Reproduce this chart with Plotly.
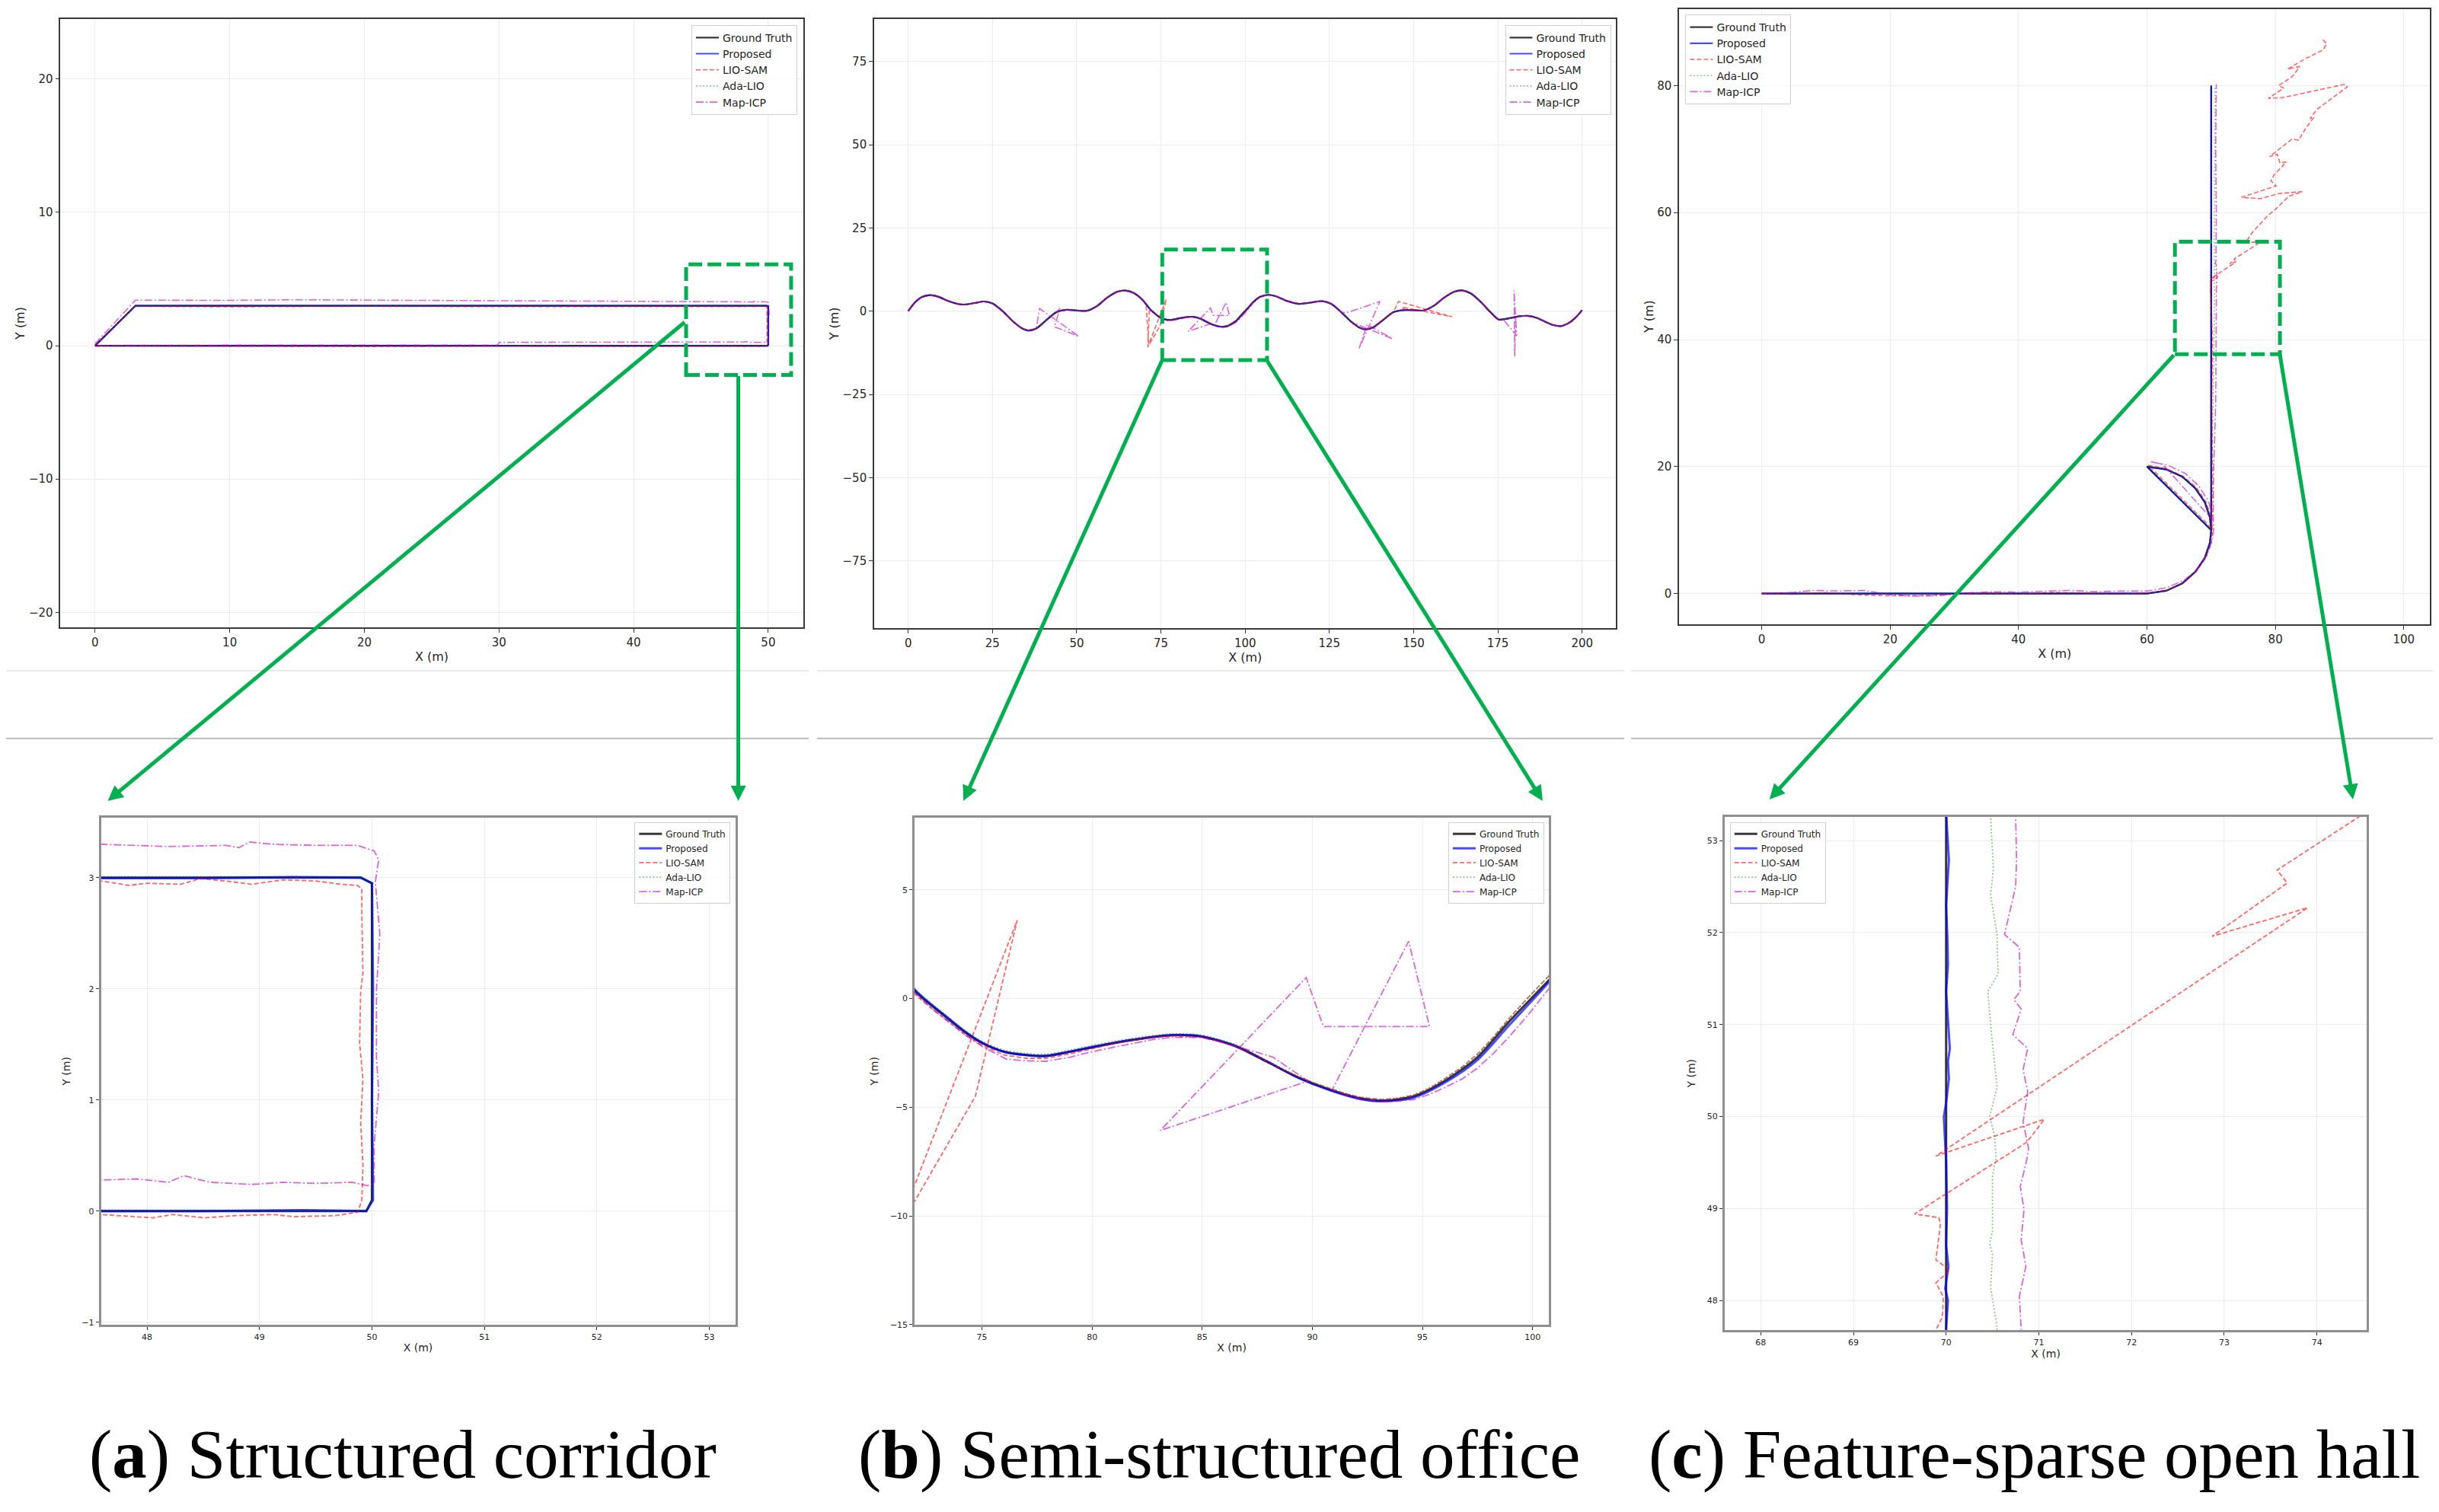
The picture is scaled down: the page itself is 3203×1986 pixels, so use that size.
import plotly.graph_objects as go

W, H = 3203, 1986          # size of the reference picture
OFF = 8                    # default page margin of the html body
FW, FH = W - 2 * OFF, H - 2 * OFF

SERIES = ["Ground Truth", "Proposed", "LIO-SAM", "Ada-LIO", "Map-ICP"]

# ---------------- (a) Structured corridor ----------------
GT_A = [(0, 0), (3, 3), (49.9, 3.0), (50.0, 2.95), (50.0, 0.1), (49.95, 0.0), (0, 0)]
PROP_A = [(0, 0), (3, 3), (20, 3.0), (35, 3.0), (47.6, 3.0), (48.5, 2.995), (49.3, 3.005), (49.9, 3.0),
          (50.0, 2.95), (50.01, 2.0), (50.0, 1.0), (50.01, 0.1), (49.95, 0.0), (49.4, 0.01), (48.5, 0.0),
          (47.6, 0.0), (30, 0.0), (10, 0.0), (0, 0)]
LIO_A = [(0, 0), (3.0, 2.95), (10, 2.92), (20, 2.96), (30, 2.93), (40, 2.95), (47.59, 2.97), (47.84, 2.93),
         (48.0, 2.95), (48.3, 2.94), (48.47, 2.99), (48.7, 2.97), (48.93, 2.94), (49.21, 2.98), (49.5, 2.97),
         (49.73, 2.94), (49.87, 2.93), (49.91, 2.9), (49.91, 2.69), (49.92, 2.14), (49.9, 1.98), (49.89, 1.51),
         (49.92, 1.19), (49.9, 0.8), (49.92, 0.41), (49.91, 0.09), (49.87, -0.01), (49.68, -0.04), (49.31, -0.05),
         (49.12, -0.03), (48.79, -0.04), (48.51, -0.06), (48.23, -0.03), (48.05, -0.06), (47.59, -0.03),
         (40, -0.05), (30, -0.02), (20, -0.06), (10, -0.03), (0, 0)]
ADA_A = [(0, 0), (3, 3.01), (47.6, 3.01), (49.9, 3.01), (50.01, 2.95), (50.01, 0.1), (49.95, 0.01),
         (47.6, 0.01), (0, 0)]
MAP_A = [(0, 0.15), (3.0, 3.42), (10, 3.4), (15, 3.45), (20, 3.42), (30, 3.38), (40, 3.35), (47.59, 3.30),
         (48.19, 3.28), (48.7, 3.29), (48.82, 3.27), (48.91, 3.32), (49.12, 3.3), (49.5, 3.29), (49.87, 3.29),
         (50.02, 3.24), (50.06, 3.16), (50.03, 2.96), (50.07, 2.49), (50.04, 1.98), (50.04, 1.39), (50.06, 1.07),
         (50.02, 0.6), (50.02, 0.25), (49.96, 0.23), (49.82, 0.26), (49.5, 0.25), (49.21, 0.26), (48.93, 0.24),
         (48.56, 0.26), (48.33, 0.32), (48.19, 0.26), (47.91, 0.29), (47.59, 0.28), (40, 0.27), (30, 0.25),
         (29.9, 0.05), (20, 0.06), (10, 0.04), (0, 0.02)]

# ---------------- (b) Semi-structured office ----------------
GT_B = [(0, 0), (2, 2.6), (4, 4.2), (6.5, 4.8), (9, 4.3), (12, 3.0), (15, 2.1), (17, 2.0), (20, 2.5), (22.5, 2.9),
        (25, 2.3), (28, 0.0), (31, -3.0), (33.5, -5.0), (35.5, -5.8), (38, -5.2), (41, -2.7), (44, -0.3),
        (47, 0.4), (50, 0.2), (53, 0.1), (56, 1.5), (59, 4.0), (62, 5.8), (64.5, 6.2), (67, 5.4), (69.5, 3.4),
        (72, 0.3), (73.4, -0.88), (74.2, -1.53), (75, -2.05), (76, -2.45), (77, -2.6), (77.9, -2.65),
        (79, -2.45), (79.8, -2.29), (81.7, -1.93), (83.6, -1.69), (84.95, -1.75), (86.5, -2.19), (87.9, -2.89),
        (89.36, -3.64), (90.8, -4.2), (92.2, -4.6), (93.2, -4.7), (94.6, -4.5), (96, -3.8), (97.5, -2.7),
        (98.9, -1.1), (100.7, 0.8), (102.5, 2.8), (104.5, 4.3), (106.8, 4.9), (109, 4.5), (112, 3.2),
        (115.8, 2.2), (119, 2.5), (122.9, 3.0), (125.5, 2.2), (128.5, -0.3), (131.5, -3.2), (134, -5.0),
        (135.8, -5.5), (138, -4.9), (141, -2.6), (144, -0.3), (147, 0.3), (150, 0.3), (153, 0.2), (156, 1.6),
        (159, 4.0), (162, 5.8), (164.6, 6.2), (167, 5.3), (170, 2.7), (172.5, 0.0), (175.2, -2.5), (178, -2.2),
        (181, -1.6), (183.8, -1.4), (186.5, -2.0), (189.5, -3.4), (191.5, -4.2), (193.6, -4.5), (196, -3.6),
        (198, -2.0), (200, 0.3)]
PROP_B = [(0, 0), (2, 2.6), (4, 4.2), (6.5, 4.8), (9, 4.3), (12, 3.0), (15, 2.1), (17, 2.0), (20, 2.5), (22.5, 2.9),
          (25, 2.3), (28, 0.0), (31, -3.0), (33.5, -5.0), (35.5, -5.8), (38, -5.2), (41, -2.7), (44, -0.3),
          (47, 0.4), (50, 0.2), (53, 0.1), (56, 1.5), (59, 4.0), (62, 5.8), (64.5, 6.2), (67, 5.4), (69.5, 3.4),
          (72, 0.35), (73.4, -0.85), (74.2, -1.5), (75, -2.03), (76, -2.45), (77, -2.6), (77.9, -2.63),
          (79, -2.44), (79.8, -2.27), (81.7, -1.92), (83.6, -1.68), (84.95, -1.74), (86.5, -2.18), (87.9, -2.88),
          (89.36, -3.65), (90.8, -4.22), (92.2, -4.63), (93.2, -4.73), (94.6, -4.56), (96, -3.88), (97.5, -2.82),
          (98.9, -1.27), (100.7, 0.7), (102.5, 2.8), (104.5, 4.3), (106.8, 4.9), (109, 4.5), (112, 3.2),
          (115.8, 2.2), (119, 2.5), (122.9, 3.0), (125.5, 2.2), (128.5, -0.3), (131.5, -3.2), (134, -5.0),
          (135.8, -5.5), (138, -4.9), (141, -2.6), (144, -0.3), (147, 0.3), (150, 0.3), (153, 0.2), (156, 1.6),
          (159, 4.0), (162, 5.8), (164.6, 6.2), (167, 5.3), (170, 2.7), (172.5, 0.0), (175.2, -2.5), (178, -2.2),
          (181, -1.6), (183.8, -1.4), (186.5, -2.0), (189.5, -3.4), (191.5, -4.2), (193.6, -4.5), (196, -3.6),
          (198, -2.0), (200, 0.3)]
LIO_B = [(0, 0), (2, 2.6), (4, 4.2), (6.5, 4.8), (9, 4.3), (12, 3.0), (15, 2.1), (17, 2.0), (20, 2.5), (22.5, 2.9),
         (25, 2.3), (28, 0.0), (31, -3.0), (33.5, -5.0), (35.5, -5.8), (38, -5.2), (41, -2.7), (44, -0.3),
         (47, 0.4), (50, 0.2), (53, 0.1), (56, 1.5), (59, 4.0), (62, 5.8), (64.5, 6.2), (67, 5.4), (69.5, 3.4),
         (70.6, 1.9), (71.4, -10.0), (76.6, 3.6), (74.7, -4.5), (71.1, -10.8), (71.6, 0.9), (72, 0.15),
         (72.7, -0.45), (73.4, -1.0), (74.2, -1.65), (75, -2.15), (76, -2.6), (77, -2.75), (77.9, -2.75),
         (79, -2.55), (79.8, -2.35), (80.8, -2.12), (81.7, -1.95), (82.7, -1.8), (83.6, -1.72), (84.95, -1.78),
         (85.7, -1.95), (86.5, -2.2), (87.2, -2.52), (87.9, -2.9), (88.6, -3.25), (89.36, -3.6), (90.1, -3.9),
         (90.8, -4.15), (91.5, -4.38), (92.2, -4.55), (93.2, -4.65), (93.9, -4.6), (94.6, -4.45), (95.3, -4.15),
         (96, -3.7), (96.8, -3.15), (97.5, -2.55), (98.2, -1.8), (98.9, -0.95), (99.8, 0.05), (100.7, 1.0),
         (102.5, 2.9), (104.5, 4.4), (106.8, 4.9), (109, 4.6), (112, 3.3), (115.8, 2.3),
         (119, 2.6), (122.9, 3.1), (125.5, 2.3), (128.5, -0.2), (131.5, -3.1), (134, -5.0), (135.8, -5.4),
         (138, -4.8), (141, -2.5), (144, -0.3), (145.5, 2.9), (161.4, -1.7), (146.5, 1.2), (147.5, 0.4),
         (150, 0.3), (153, 0.2), (156, 1.6), (159, 4.0), (162, 5.8), (164.6, 6.2), (167, 5.3), (170, 2.7),
         (172.5, 0.0), (175.2, -2.5), (178, -2.2), (181, -1.6), (183.8, -1.4), (186.5, -2.0), (189.5, -3.4),
         (191.5, -4.2), (193.6, -4.5), (196, -3.6), (198, -2.0), (200, 0.3)]
ADA_B = [(0, 0), (2, 2.6), (4, 4.2), (6.5, 4.8), (9, 4.3), (12, 3.0), (15, 2.1), (17, 2.0), (20, 2.5), (22.5, 2.9),
         (25, 2.3), (28, 0.0), (31, -3.0), (33.5, -5.0), (35.5, -5.8), (38, -5.2), (41, -2.7), (44, -0.3),
         (47, 0.4), (50, 0.2), (53, 0.1), (56, 1.5), (59, 4.0), (62, 5.8), (64.5, 6.2), (67, 5.4), (69.5, 3.4),
         (72, 0.4), (73.4, -0.8), (74.2, -1.45), (75, -1.97), (76, -2.37), (77, -2.52), (77.9, -2.56),
         (79, -2.37), (79.8, -2.2), (81.7, -1.85), (83.6, -1.62), (84.95, -1.68), (86.5, -2.12), (87.9, -2.83),
         (89.36, -3.58), (90.8, -4.14), (92.2, -4.54), (93.2, -4.63), (94.6, -4.42), (96, -3.7), (97.5, -2.58),
         (98.9, -0.97), (100.7, 1.0), (102.5, 2.8), (104.5, 4.3), (106.8, 4.9), (109, 4.5), (112, 3.2),
         (115.8, 2.2), (119, 2.5), (122.9, 3.0), (125.5, 2.2), (128.5, -0.3), (131.5, -3.2), (134, -5.0),
         (135.8, -5.5), (138, -4.9), (141, -2.6), (144, -0.3), (147, 0.3), (150, 0.3), (153, 0.2), (156, 1.6),
         (159, 4.0), (162, 5.8), (164.6, 6.2), (167, 5.3), (170, 2.7), (172.5, 0.0), (175.2, -2.5), (178, -2.2),
         (181, -1.6), (183.8, -1.4), (186.5, -2.0), (189.5, -3.4), (191.5, -4.2), (193.6, -4.5), (196, -3.6),
         (198, -2.0), (200, 0.3)]
MAP_B = [(0, 0), (2, 2.6), (4, 4.2), (6.5, 4.8), (9, 4.3), (12, 3.0), (15, 2.1), (17, 2.0), (20, 2.5), (22.5, 2.9),
         (25, 2.3), (28, 0.0), (31, -3.0), (33.5, -5.0), (35.5, -5.8), (38, -5.2), (39.0, 0.8), (50.7, -7.6),
         (43.4, -4.7), (45.1, 0.9), (44, -0.3), (47, 0.4), (50, 0.2), (53, 0.1), (56, 1.5), (59, 4.0), (62, 5.8),
         (64.5, 6.2), (67, 5.4), (69.5, 3.4), (72, 0.2), (72.7, -0.45), (73.4, -1.0), (74.2, -1.65), (75, -2.2),
         (76.1, -2.79), (77.0, -2.87), (77.9, -2.89), (79.0, -2.7), (79.8, -2.49), (80.8, -2.28), (81.7, -2.09),
         (82.7, -1.9), (83.6, -1.79), (84.95, -1.79), (85.7, -1.97), (86.5, -2.19), (87.4, -2.45), (88.2, -2.69),
         (89.1, -3.3), (89.8, -3.8), (83.1, -6.07), (89.72, 0.96), (90.5, -1.29), (95.32, -1.29),
         (94.37, 2.63), (90.9, -4.2), (91.6, -4.45), (92.2, -4.65), (93.2, -4.75), (93.9, -4.72), (94.6, -4.65),
         (95.3, -4.42), (96, -4.1), (96.8, -3.7), (97.5, -3.2), (98.2, -2.55), (98.9, -1.8), (99.8, -0.75),
         (100.7, 0.4), (102.5, 2.6), (104.5, 4.2), (106.8, 4.8), (109, 4.5), (112, 3.2),
         (115.8, 2.2), (119, 2.5), (122.9, 3.0), (125.5, 2.2), (128.5, -0.3), (129.8, -0.6), (140.0, 2.9),
         (133.8, -11.2), (136.2, -4.0), (143.7, -8.3), (131.8, -3.4), (134, -5.0), (135.8, -5.5), (138, -4.9),
         (141, -2.6), (144, -0.3), (147, 0.3), (150, 0.3), (153, 0.2), (156, 1.6), (159, 4.0), (162, 5.8),
         (164.6, 6.2), (167, 5.3), (170, 2.7), (172.5, 0.0), (175.2, -2.5), (176.5, -2.4), (180.6, -7.4),
         (179.8, 6.2), (180.0, -13.6), (180.3, -2.0), (181, -1.6), (183.8, -1.4), (186.5, -2.0), (189.5, -3.4),
         (191.5, -4.2), (193.6, -4.5), (196, -3.6), (198, -2.0), (200, 0.3)]

# ---------------- (c) Feature-sparse open hall ----------------
GT_C = [(0, 0), (60, 0), (63, 0.45), (65.5, 1.6), (67.5, 3.4), (69, 5.6), (69.8, 8.0), (70, 10), (69.8, 12),
        (69, 14.4), (67.5, 16.6), (65.5, 18.4), (63, 19.55), (60, 20), (70, 10), (70, 80)]
PROP_C = [(0, 0), (20, 0.02), (40, -0.02), (60, 0), (63, 0.45), (65.5, 1.6), (67.5, 3.4), (69, 5.6), (69.8, 8.0),
          (70, 10), (69.8, 12), (69, 14.4), (67.5, 16.6), (65.5, 18.4), (63, 19.55), (60, 20), (70, 10),
          (70, 30), (70.0, 47.7), (70.02, 48.0), (69.99, 48.13), (70.025, 48.37), (70.0, 48.6), (70.01, 49.0),
          (70.0, 49.5), (69.975, 50.0), (70.0, 50.15), (70.03, 50.41), (70.02, 50.6), (70.04, 50.74),
          (70.0, 51.36), (70.02, 51.65), (70.015, 51.9), (70.0, 52.3), (70.03, 52.79), (70.0, 53.3), (70, 80)]
LIO_C = [(0, 0), (5, -0.1), (10, 0.15), (15, -0.2), (20, -0.35), (25, -0.3), (30, -0.1), (35, 0.1), (40, -0.1),
         (45, 0.2), (50, 0.1), (55, -0.1), (60, 0.05), (63.1, 0.5), (65.7, 1.7), (67.7, 3.5), (69.2, 5.7),
         (70.0, 8.0), (70.2, 10), (70.0, 12), (69.2, 14.4), (67.7, 16.7), (65.6, 18.5), (63, 19.7), (60.2, 20.2),
         (70.1, 10.3), (70.2, 20), (70.1, 30), (70.2, 40), (70.0, 46), (69.90, 47.70), (69.96, 47.82),
         (69.97, 48.04), (69.89, 48.19), (70.04, 48.33), (69.89, 48.44), (69.94, 48.84), (69.92, 48.90),
         (69.66, 48.94), (70.87, 49.72), (71.06, 49.97), (69.89, 49.57), (73.90, 52.27), (72.87, 51.96),
         (73.68, 52.54), (73.57, 52.68), (74.44, 53.25), (77.9, 55.5), (75.3, 55.2), (76.5, 57.0), (78.7, 59.4),
         (80.1, 60.6), (82.1, 62.6), (84.2, 63.3), (80.5, 63.0), (77.7, 62.2), (74.7, 62.4), (80.1, 64.2),
         (79.3, 65.0), (79.7, 65.8), (81.7, 68.0), (80.7, 67.8), (80.3, 69.2), (79.1, 68.8), (82.6, 71.6),
         (83.6, 71.4), (84.8, 73.4), (86.0, 75.0), (85.4, 74.8), (86.4, 76.2), (91.2, 79.8), (90.8, 80.2),
         (81.1, 78.1), (78.9, 78.0), (81.3, 79.6), (80.5, 80.0), (82.6, 81.4), (83.8, 83.0), (81.9, 82.6),
         (84.6, 84.2), (87.4, 85.6), (88.0, 86.6), (87.2, 87.4)]
ADA_C = [(0, 0), (60, 0.02), (63, 0.47), (65.5, 1.62), (67.5, 3.42), (69, 5.62), (69.8, 8.0), (70, 10),
         (69.8, 12), (69, 14.4), (67.5, 16.6), (65.5, 18.4), (63, 19.55), (60, 20), (70, 10), (70.1, 20),
         (70.3, 30), (70.45, 40), (70.55, 47.7), (70.48, 48.14), (70.5, 48.5), (70.47, 48.62), (70.5, 48.75),
         (70.5, 49.0), (70.5, 49.35), (70.54, 49.55), (70.52, 49.8), (70.47, 50.0), (70.55, 50.32),
         (70.49, 50.89), (70.45, 51.36), (70.56, 51.55), (70.55, 51.98), (70.48, 52.41), (70.51, 52.69),
         (70.48, 53.26), (70.5, 60), (70.55, 70), (70.6, 80)]
MAP_C = [(0, 0), (5, 0.2), (8, 0.5), (12, 0.4), (16, 0.5), (20, -0.2), (24, -0.4), (28, -0.3), (32, 0.1),
         (36, 0.3), (40, 0.2), (44, 0.4), (48, 0.5), (52, 0.3), (56, 0.4), (60, 0.4), (63, 0.9), (65.8, 2.1),
         (67.8, 3.8), (69.3, 6.0), (70.1, 8.2), (70.4, 10.2), (70.3, 12.2), (69.5, 14.7), (68, 17),
         (66, 18.9), (63.3, 20.2), (60.5, 20.8), (62.5, 20.3), (70.3, 11.5), (70.4, 20), (70.7, 30),
         (70.8, 40), (70.81, 47.68), (70.79, 48.04), (70.86, 48.37), (70.81, 48.66), (70.84, 48.99),
         (70.8, 49.24), (70.87, 49.53), (70.89, 49.65), (70.83, 49.94), (70.88, 50.27), (70.83, 50.51),
         (70.88, 50.74), (70.72, 50.89), (70.81, 51.17), (70.73, 51.27), (70.80, 51.36), (70.79, 51.84),
         (70.63, 51.98), (70.75, 52.5), (70.76, 52.79), (70.75, 53.26), (70.8, 60), (70.7, 70), (70.8, 80.2)]

DATA = {
    "A": [GT_A, PROP_A, LIO_A, ADA_A, MAP_A],
    "B": [GT_B, PROP_B, LIO_B, ADA_B, MAP_B],
    "C": [GT_C, PROP_C, LIO_C, ADA_C, MAP_C],
}

# tick labels
A_TOP_XT = [0, 10, 20, 30, 40, 50]
A_TOP_YT = [-20, -10, 0, 10, 20]
B_TOP_XT = [0, 25, 50, 75, 100, 125, 150, 175, 200]
B_TOP_YT = [-75, -50, -25, 0, 25, 50, 75]
C_TOP_XT = [0, 20, 40, 60, 80, 100]
C_TOP_YT = [0, 20, 40, 60, 80]
A_BOT_XT = [48, 49, 50, 51, 52, 53]
A_BOT_YT = [-1, 0, 1, 2, 3]
B_BOT_XT = [75, 80, 85, 90, 95, 100]
B_BOT_YT = [-15, -10, -5, 0, 5]
C_BOT_XT = [68, 69, 70, 71, 72, 73, 74]
C_BOT_YT = [48, 49, 50, 51, 52, 53]

# zoom windows drawn on the overview plots [x0, x1, y0, y1]
ZOOM_A = [43.9, 51.7, -2.2, 6.1]
ZOOM_B = [75.4, 106.5, -14.7, 18.5]
ZOOM_C = [64.35, 80.7, 37.7, 55.4]

CAPTIONS = ["(<b>a</b>) Structured corridor", "(<b>b</b>) Semi-structured office",
            "(<b>c</b>) Feature-sparse open hall"]

# ---------------- styles / layout ----------------
STYLE = {
    "Ground Truth": dict(color="rgba(0,0,0,0.78)", dash="solid", w=(2.2, 3.0)),
    "Proposed": dict(color="rgba(0,0,255,0.7)", dash="solid", w=(2.2, 3.0)),
    "LIO-SAM": dict(color="rgba(255,0,0,0.6)", dash="6px,3px", w=(1.6, 1.8)),
    "Ada-LIO": dict(color="rgba(0,128,0,0.45)", dash="2px,2.5px", w=(1.6, 1.8)),
    "Map-ICP": dict(color="rgba(191,0,191,0.6)", dash="10px,3px,2px,3px", w=(1.6, 1.8)),
}
SMOOTH = {"Ground Truth", "Proposed", "Ada-LIO"}   # drawn with the spline shape in (b)

PANELS = [
    dict(key="A", xdom=(79.4, 1054.5), ydom=(24.7, 824.3), xr=(-2.57, 52.58), yr=(-21.14, 24.52),
         xt=A_TOP_XT, yt=A_TOP_YT, bottom=False, leg=("right", 1047, 32.7), zoom=ZOOM_A),
    dict(key="B", xdom=(1148, 2122.4), ydom=(24.7, 825), xr=(-10.1, 210.1), yr=(-95.2, 87.8),
         xt=B_TOP_XT, yt=B_TOP_YT, bottom=False, leg=("right", 2115.5, 32.7), zoom=ZOOM_B),
    dict(key="C", xdom=(2205.2, 3191.4), ydom=(11.5, 819.7), xr=(-12.85, 104.1), yr=(-4.8, 92.1),
         xt=C_TOP_XT, yt=C_TOP_YT, bottom=False, leg=("left", 2213.4, 19), zoom=ZOOM_C),
    dict(key="A", xdom=(132.5, 965.5), ydom=(1073.9, 1739.8), xr=(47.59, 53.23), yr=(-1.02, 3.54),
         xt=A_BOT_XT, yt=A_BOT_YT, bottom=True, leg=("right", 959.3, 1079.7), zoom=None),
    dict(key="B", xdom=(1201.1, 2034.1), ydom=(1073.9, 1739.8), xr=(71.94, 100.74), yr=(-15.0, 8.32),
         xt=B_BOT_XT, yt=B_BOT_YT, bottom=True, leg=("right", 2027.9, 1079.7), zoom=None),
    dict(key="C", xdom=(2264.8, 3108.4), ydom=(1072.8, 1746.7), xr=(67.61, 74.54), yr=(47.68, 53.26),
         xt=C_BOT_XT, yt=C_BOT_YT, bottom=True, leg=("left", 2271.7, 1079.7), zoom=None),
]

GREEN = "#00b050"
FONT = "DejaVu Sans"
TXT = "#262626"


def px(xp):
    return (xp - OFF) / FW


def py(yp):
    return 1 - (yp - OFF) / FH


fig = go.Figure()
layout = dict(width=FW, height=FH, margin=dict(l=0, r=0, t=0, b=0), paper_bgcolor="white",
              plot_bgcolor="white", hovermode=False, showlegend=True)
shapes = []
annotations = []

for i, p in enumerate(PANELS, start=1):
    xa = "x" if i == 1 else f"x{i}"
    ya = "y" if i == 1 else f"y{i}"
    lg = "legend" if i == 1 else f"legend{i}"
    bot = p["bottom"]
    for name, pts in zip(SERIES, DATA[p["key"]]):
        st = STYLE[name]
        shape = "spline" if (p["key"] == "B" and name in SMOOTH) else "linear"
        fig.add_trace(go.Scatter(
            x=[q[0] for q in pts], y=[q[1] for q in pts], mode="lines", name=name,
            line=dict(color=st["color"], width=st["w"][1 if bot else 0], dash=st["dash"], shape=shape,
                      smoothing=0.8),
            xaxis=xa, yaxis=ya, legend=lg, showlegend=True))
    common = dict(
        showline=True, mirror=True,
        linecolor="#8f8f8f" if bot else "#3a3a3a",
        linewidth=2.6 if bot else 1.6,
        ticks="outside", ticklen=4 if bot else 5, tickwidth=1.2, tickcolor="#333",
        showgrid=True, gridcolor="#ececec", gridwidth=1.2, zeroline=False,
        tickfont=dict(family=FONT, size=11 if bot else 15, color=TXT),
        automargin=False,
    )
    xkey = "xaxis" if i == 1 else f"xaxis{i}"
    ykey = "yaxis" if i == 1 else f"yaxis{i}"
    layout[xkey] = dict(common, domain=[px(p["xdom"][0]), px(p["xdom"][1])], range=list(p["xr"]),
                        tickvals=p["xt"], anchor=ya,
                        title=dict(text="X (m)", standoff=4 if bot else 5,
                                   font=dict(family=FONT, size=14 if bot else 16, color=TXT)))
    layout[ykey] = dict(common, domain=[py(p["ydom"][1]), py(p["ydom"][0])], range=list(p["yr"]),
                        tickvals=p["yt"], anchor=xa,
                        title=dict(text="Y (m)", standoff=12 if bot else 1,
                                   font=dict(family=FONT, size=14 if bot else 16, color=TXT)))
    side, lx, ly = p["leg"]
    layout[lg] = dict(x=px(lx), y=py(ly), xanchor=side, yanchor="top",
                      bgcolor="rgba(255,255,255,0.85)", bordercolor="#d0d0d0", borderwidth=1,
                      font=dict(family=FONT, size=12 if bot else 14, color=TXT),
                      tracegroupgap=0, itemwidth=30)
    if p["zoom"] is not None:
        z = p["zoom"]
        shapes.append(dict(type="rect", xref=xa, yref=ya, x0=z[0], x1=z[1], y0=z[2], y1=z[3],
                           line=dict(color=GREEN, width=5, dash="18px,7px"), fillcolor="rgba(0,0,0,0)",
                           layer="above"))

# faint separators left over from the sub-figure crops
for (x0, x1) in [(8, 1062), (1073, 2133), (2142, 3195)]:
    shapes.append(dict(type="line", xref="paper", yref="paper", x0=px(x0), x1=px(x1),
                       y0=py(881), y1=py(881), line=dict(color="#e2e2e2", width=1.5)))
    shapes.append(dict(type="line", xref="paper", yref="paper", x0=px(x0), x1=px(x1),
                       y0=py(970), y1=py(970), line=dict(color="#a8a8a8", width=1.5)))

# green zoom arrows: (tail px, tip px)
ARROWS = [((900.6, 422), (141.5, 1052)), ((969.6, 492.5), (969.6, 1052)),
          ((1526.2, 473), (1265.3, 1052)), ((1663.5, 473), (2025.8, 1052)),
          ((2856, 465), (2323.8, 1050)), ((2993.9, 465), (3090, 1050))]
for (tx, ty), (hx, hy) in ARROWS:
    annotations.append(dict(xref="paper", yref="paper", x=px(hx), y=py(hy), ax=tx - hx, ay=ty - hy,
                            text="", showarrow=True, arrowhead=2, arrowsize=0.8, arrowwidth=5,
                            arrowcolor=GREEN, standoff=0))

for cx, cap in zip([529, 1601, 2671], CAPTIONS):
    annotations.append(dict(xref="paper", yref="paper", x=px(cx), y=py(1910), xanchor="center",
                            yanchor="middle", text=cap, showarrow=False,
                            font=dict(family="Liberation Serif", size=91, color="black")))

layout["shapes"] = shapes
layout["annotations"] = annotations
fig.update_layout(**layout)
fig.write_html("out.html")
